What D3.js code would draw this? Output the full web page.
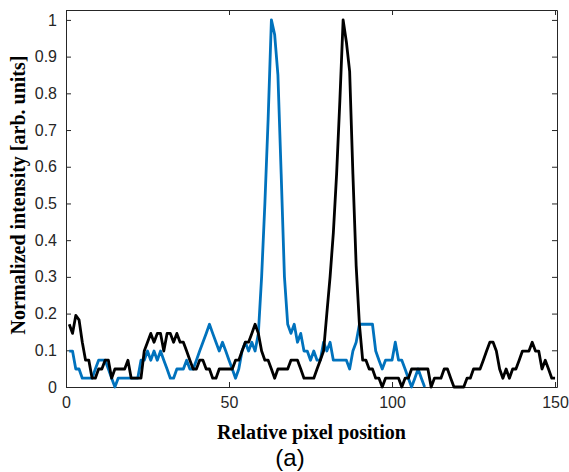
<!DOCTYPE html>
<html>
<head>
<meta charset="utf-8">
<script src="https://cdn.jsdelivr.net/npm/d3@7"></script>
<style>
    body { margin: 0; background: #fff; }
    svg { display: block; }
    .axis text { font-family: "Liberation Sans", Arial, sans-serif; font-size: 16px; fill: #262626; }
    .axis path, .axis line { stroke: #262626; }
</style>
</head>
<body>
<div id="chart"></div>
<script>
// Intensity profiles, one value per pixel starting at position 1
const blueProfile = [
    0.098, 0.098, 0.049, 0.049, 0.024, 0.024, 0.024, 0.024, 0.049, 0.073,
    0.073, 0.073, 0.049, 0.024, 0, 0.024, 0.024, 0.024, 0.024, 0.024,
    0.024, 0.024, 0.073, 0.073, 0.098, 0.073, 0.098, 0.073, 0.098, 0.073,
    0.049, 0.024, 0.024, 0.049, 0.049, 0.049, 0.073, 0.049, 0.049, 0.073,
    0.098, 0.122, 0.146, 0.171, 0.146, 0.122, 0.098, 0.122, 0.098, 0.073,
    0.049, 0.024, 0.049, 0.098, 0.122, 0.098, 0.122, 0.098, 0.146, 0.3,
    0.5, 0.73, 1.0, 0.96, 0.85, 0.58, 0.3, 0.171, 0.146, 0.171,
    0.122, 0.146, 0.098, 0.098, 0.073, 0.098, 0.073, 0.073, 0.122, 0.098,
    0.122, 0.073, 0.073, 0.073, 0.073, 0.073, 0.049, 0.098, 0.122, 0.171,
    0.171, 0.171, 0.171, 0.171, 0.098, 0.073, 0.049, 0.073, 0.073, 0.073,
    0.122, 0.073, 0.073, 0.049, 0.024, 0, 0.024, 0.049, 0.024, 0
];

const blackProfile = [
    0.171, 0.146, 0.195, 0.183, 0.122, 0.073, 0.073, 0.024, 0.024, 0.049,
    0.049, 0.073, 0.073, 0.024, 0.049, 0.049, 0.049, 0.049, 0.073, 0.024,
    0.024, 0.024, 0.024, 0.098, 0.122, 0.146, 0.122, 0.146, 0.146, 0.098,
    0.146, 0.146, 0.122, 0.146, 0.122, 0.122, 0.098, 0.073, 0.049, 0.049,
    0.073, 0.073, 0.049, 0.049, 0.024, 0.024, 0.049, 0.049, 0.049, 0.049,
    0.049, 0.073, 0.073, 0.098, 0.122, 0.122, 0.146, 0.171, 0.146, 0.098,
    0.073, 0.073, 0.049, 0.024, 0.049, 0.049, 0.049, 0.049, 0.073, 0.073,
    0.073, 0.049, 0.024, 0.024, 0.024, 0.024, 0.049, 0.073, 0.098, 0.2,
    0.3, 0.42, 0.58, 0.78, 1.0, 0.94, 0.86, 0.58, 0.33, 0.17,
    0.073, 0.073, 0.049, 0.049, 0.024, 0.024, 0, 0.024, 0.024, 0.024,
    0.024, 0.024, 0, 0.024, 0.024, 0.049, 0.049, 0.049, 0.049, 0.049,
    0.049, 0, 0.024, 0.024, 0.024, 0.049, 0.049, 0.024, 0, 0,
    0, 0, 0.024, 0.024, 0.049, 0.049, 0.049, 0.073, 0.098, 0.122,
    0.122, 0.098, 0.049, 0.024, 0.049, 0.024, 0.049, 0.049, 0.073, 0.098,
    0.098, 0.098, 0.122, 0.098, 0.098, 0.049, 0.073, 0.049, 0.024, 0.024
];

const xTicks = [0, 50, 100, 150];
const yTicks = [0, 0.1, 0.2, 0.3, 0.4, 0.5, 0.6, 0.7, 0.8, 0.9, 1];

function drawChart() {
    const margin = { top: 10, right: 12, bottom: 85, left: 66 };
    const width = 569 - margin.left - margin.right;
    const height = 472 - margin.top - margin.bottom;

    const svg = d3.select('#chart').append('svg')
        .attr('width', 569)
        .attr('height', 472);

    const g = svg.append('g')
        .attr('transform', `translate(${margin.left},${margin.top})`);

    // Scales
    const x = d3.scaleLinear()
        .domain([0, 150.6])
        .range([0, width]);

    const y = d3.scaleLinear()
        .domain([0, 1.027])
        .range([height, 0]);

    const fmt = d => (d === 0 || d === 1) ? String(d) : d.toFixed(1);

    // Axes, MATLAB style ticks pointing inward
    g.append('g')
        .attr('class', 'axis')
        .attr('transform', `translate(0,${height})`)
        .call(d3.axisBottom(x).tickValues(xTicks).tickSize(-5).tickPadding(10).tickSizeOuter(0));

    g.append('g')
        .attr('class', 'axis')
        .call(d3.axisTop(x).tickValues(xTicks).tickSize(-5).tickFormat('').tickSizeOuter(0));

    g.append('g')
        .attr('class', 'axis')
        .call(d3.axisLeft(y).tickValues(yTicks).tickSize(-5).tickPadding(9).tickFormat(fmt).tickSizeOuter(0));

    g.append('g')
        .attr('class', 'axis')
        .attr('transform', `translate(${width},0)`)
        .call(d3.axisRight(y).tickValues(yTicks).tickSize(-5).tickFormat('').tickSizeOuter(0));

    // Lines
    const line = d3.line()
        .x((d, i) => x(i + 1))
        .y(d => y(d));

    g.append('path')
        .datum(blueProfile)
        .attr('fill', 'none')
        .attr('stroke', '#0072BD')
        .attr('stroke-width', 2.8)
        .attr('stroke-linejoin', 'round')
        .attr('d', line);

    g.append('path')
        .datum(blackProfile)
        .attr('fill', 'none')
        .attr('stroke', '#000')
        .attr('stroke-width', 2.8)
        .attr('stroke-linejoin', 'round')
        .attr('d', line);

    // Labels
    svg.append('text')
        .attr('x', margin.left + width / 2)
        .attr('y', 439)
        .attr('text-anchor', 'middle')
        .attr('font-family', '"Liberation Serif", "Times New Roman", serif')
        .attr('font-weight', 'bold')
        .attr('font-size', '20px')
        .attr('fill', '#000')
        .text('Relative pixel position');

    svg.append('text')
        .attr('transform', 'rotate(-90)')
        .attr('x', -195)
        .attr('y', 25)
        .attr('text-anchor', 'middle')
        .attr('font-family', '"Liberation Serif", "Times New Roman", serif')
        .attr('font-weight', 'bold')
        .attr('font-size', '20px')
        .attr('fill', '#000')
        .text('Normalized intensity [arb. units]');

    svg.append('text')
        .attr('x', 290)
        .attr('y', 466)
        .attr('text-anchor', 'middle')
        .attr('font-family', '"Liberation Sans", Arial, sans-serif')
        .attr('font-size', '24px')
        .attr('fill', '#000')
        .text('(a)');
}

drawChart();
</script>
</body>
</html>
